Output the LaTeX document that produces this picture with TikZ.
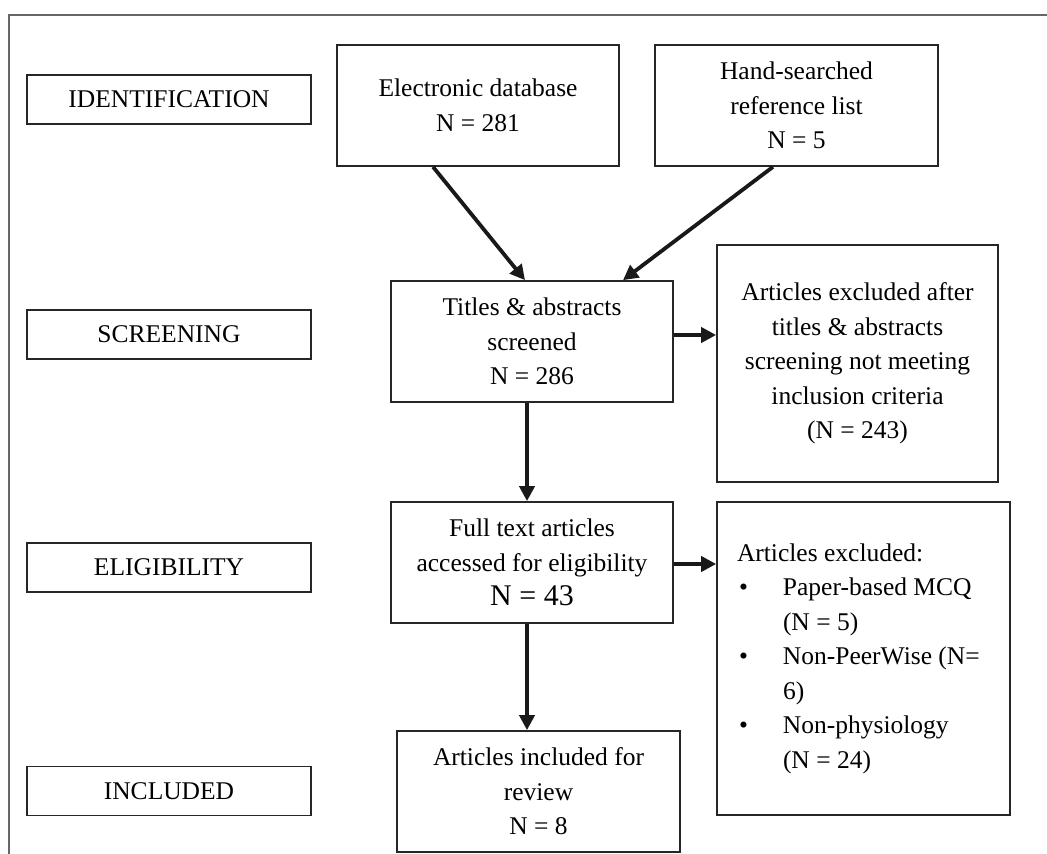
\documentclass[tikz,border=0pt]{standalone}
\usepackage{fontspec}
\setmainfont{Liberation Serif}
\usetikzlibrary{arrows.meta}
\begin{document}
\begin{tikzpicture}[x=1pt,y=-1pt,
  box/.style={draw=black!85, line width=1.7pt, inner sep=0pt, align=center,
    font=\fontsize{25.5}{34.5}\selectfont},
  stagebox/.style={box, minimum width=284pt, minimum height=49pt},
  flowbox/.style={box, minimum width=282pt, minimum height=121pt},
  flow/.style={draw=black!90, line width=3.8pt, -{Triangle[length=15pt,width=15pt]}},
  frameline/.style={draw=black!60, line width=1.2pt}]
\useasboundingbox (0,0) rectangle (1047,854);
\fill[white] (0,0) rectangle (1047,854);
% outer frame
\coordinate (ftl) at (9,15);
\coordinate (ftr) at (1047,15);
\coordinate (fbl) at (9,854);
\draw[frameline] (fbl) -- (ftl) -- (ftr);
% stage labels
\node[stagebox] (ident)  at (169,99.5)  {IDENTIFICATION};
\node[stagebox] (screen) at (169,334.5) {SCREENING};
\node[stagebox] (elig)   at (169,567.5) {ELIGIBILITY};
\node[stagebox] (incl)   at (169,791)   {INCLUDED};
% flow boxes
\node[flowbox] (edb)    at (478,105.5) {Electronic database\\N = 281};
\node[flowbox, minimum width=283pt] (hand) at (796.5,105.5) {Hand-searched\\reference list\\N = 5};
\node[flowbox] (titles) at (532,341.5) {Titles \& abstracts\\screened\\N = 286};
\node[flowbox] (full)   at (532,562.5) {Full text articles\\accessed for eligibility\\{\fontsize{30}{36}\selectfont N = 43}};
\node[flowbox, minimum width=283pt] (incl2) at (538.5,791.5) {Articles included for\\review\\N = 8};
\node[box, minimum width=281pt, minimum height=237pt] (exc1) at (857.5,363.5)
  {Articles excluded after\\titles \& abstracts\\screening not meeting\\inclusion criteria\\(N = 243)};
\node[box, minimum width=293pt, minimum height=313pt, align=flush left, text width=253pt,
  inner xsep=20pt] (exc2) at (863.5,658.5)
  {Articles excluded:\\
   \makebox[46pt][l]{\hspace{2pt}\textbullet}Paper-based MCQ\\
   \hspace*{46pt}(N = 5)\\
   \makebox[46pt][l]{\hspace{2pt}\textbullet}Non-PeerWise (N=\\
   \hspace*{46pt}6)\\
   \makebox[46pt][l]{\hspace{2pt}\textbullet}Non-physiology\\
   \hspace*{46pt}(N = 24)};
% connectors
\draw[flow] ([xshift=-45pt]edb.south) -- ([xshift=-7pt]titles.north);
\draw[flow] ([xshift=-23.5pt]hand.south) -- ([xshift=91pt]titles.north);
\draw[flow] ([xshift=-5pt]titles.south) -- ([xshift=-5pt]full.north);
\draw[flow] ([xshift=-5pt]full.south) -- ([xshift=-5pt]full.south |- incl2.north);
\draw[flow] ([yshift=6.5pt]titles.east) -- ([yshift=6.5pt]titles.east -| exc1.west);
\draw[flow] ([yshift=-1.5pt]full.east) -- ([yshift=-1.5pt]full.east -| exc2.west);
\end{tikzpicture}
\end{document}
